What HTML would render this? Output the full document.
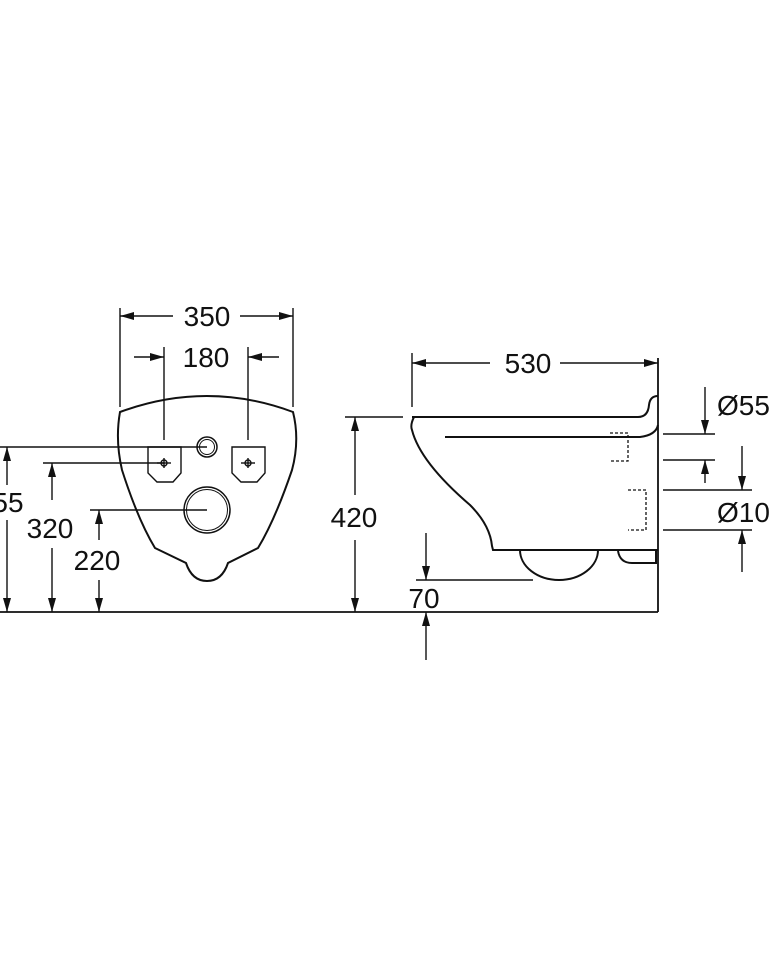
<!DOCTYPE html>
<html><head><meta charset="utf-8"><style>
html,body{margin:0;padding:0;background:#fff}
svg{display:block}
text{font-family:"Liberation Sans",sans-serif;font-size:28px;fill:#111}
</style></head><body>
<svg width="770" height="960" viewBox="0 0 770 960" xmlns="http://www.w3.org/2000/svg">
<defs>
<marker id="a" viewBox="0 0 14 10" refX="14" refY="5" markerWidth="14" markerHeight="10" markerUnits="userSpaceOnUse" orient="auto"><path d="M0,1 L14,5 L0,9 z" fill="#111"/></marker>
</defs>
<g stroke="#111" stroke-width="1.4" fill="none">
<line x1="0" y1="612" x2="658" y2="612" stroke-width="1.8"/>
<path d="M120,412 Q207,380 293,412 Q300,440 292,470 Q275,520 258,548 L228,563 Q222,581 207,581 Q192,581 186,563 L155,548 Q138,520 122,470 Q115,440 120,412 Z" stroke-width="2"/>
<circle cx="207" cy="447" r="10" stroke-width="1.5"/><circle cx="207" cy="447" r="7.5" stroke-width="1"/>
<circle cx="207" cy="510" r="23" stroke-width="1.5"/><circle cx="207" cy="510" r="20.5" stroke-width="1"/>
<path d="M148,447 L181,447 L181,473 L173,482 L157,482 L148,473 Z"/>
<path d="M232,447 L265,447 L265,473 L257,482 L241,482 L232,473 Z"/>
<circle cx="164" cy="463" r="3"/><line x1="157" y1="463" x2="171" y2="463"/><line x1="164" y1="458" x2="164" y2="468"/>
<circle cx="248" cy="463" r="3"/><line x1="241" y1="463" x2="255" y2="463"/><line x1="248" y1="458" x2="248" y2="468"/>
<line x1="120" y1="308" x2="120" y2="407"/><line x1="293" y1="308" x2="293" y2="407"/>
<line x1="173" y1="316" x2="120" y2="316" marker-end="url(#a)"/><line x1="240" y1="316" x2="293" y2="316" marker-end="url(#a)"/>
<line x1="164" y1="347" x2="164" y2="440"/><line x1="248" y1="347" x2="248" y2="440"/>
<line x1="134" y1="357" x2="164" y2="357" marker-end="url(#a)"/><line x1="279" y1="357" x2="248" y2="357" marker-end="url(#a)"/>
<line x1="0" y1="447" x2="207" y2="447"/>
<line x1="43" y1="463" x2="164" y2="463"/>
<line x1="90" y1="510" x2="207" y2="510"/>
<line x1="7" y1="485" x2="7" y2="447" marker-end="url(#a)"/><line x1="7" y1="520" x2="7" y2="612" marker-end="url(#a)"/>
<line x1="52" y1="500" x2="52" y2="463" marker-end="url(#a)"/><line x1="52" y1="548" x2="52" y2="612" marker-end="url(#a)"/>
<line x1="99" y1="540" x2="99" y2="510" marker-end="url(#a)"/><line x1="99" y1="580" x2="99" y2="612" marker-end="url(#a)"/>
<line x1="658" y1="358" x2="658" y2="612" stroke-width="1.8"/>
<path d="M412,417 L638,417 Q648,417 649,405 Q650,396 658,396" stroke-width="2"/>
<path d="M445,437 L640,437 Q656,435 658,425" stroke-width="2"/>
<path d="M414,417 Q410,425 412,430 Q420,462 470,505 Q490,525 492,546 L493,550 L658,550" stroke-width="2"/>
<path d="M520,550 A39,30 0 0 0 598,550" stroke-width="2"/>
<path d="M618,551 Q620,563 632,563 L656,563 L656,551" stroke-width="2"/>
<path d="M610,433 L628,433 L628,461 L610,461 M628,490 L646,490 L646,530 L628,530" stroke-dasharray="3,2" stroke-width="1.3"/>
<line x1="412" y1="353" x2="412" y2="407"/>
<line x1="490" y1="363" x2="412" y2="363" marker-end="url(#a)"/><line x1="560" y1="363" x2="658" y2="363" marker-end="url(#a)"/>
<line x1="345" y1="417" x2="403" y2="417"/>
<line x1="355" y1="495" x2="355" y2="417" marker-end="url(#a)"/><line x1="355" y1="540" x2="355" y2="612" marker-end="url(#a)"/>
<line x1="416" y1="580" x2="533" y2="580"/>
<line x1="426" y1="533" x2="426" y2="580" marker-end="url(#a)"/><line x1="426" y1="660" x2="426" y2="612" marker-end="url(#a)"/>
<line x1="663" y1="434" x2="715" y2="434"/><line x1="663" y1="460" x2="715" y2="460"/>
<line x1="663" y1="490" x2="752" y2="490"/><line x1="663" y1="530" x2="752" y2="530"/>
<line x1="705" y1="387" x2="705" y2="434" marker-end="url(#a)"/><line x1="705" y1="483" x2="705" y2="460" marker-end="url(#a)"/>
<line x1="742" y1="446" x2="742" y2="490" marker-end="url(#a)"/><line x1="742" y1="572" x2="742" y2="530" marker-end="url(#a)"/>
</g>
<g text-anchor="middle">
<text x="207" y="326">350</text>
<text x="206" y="367">180</text>
<text x="8" y="512">55</text>
<text x="50" y="538">320</text>
<text x="97" y="570">220</text>
<text x="528" y="373">530</text>
<text x="354" y="527">420</text>
<text x="424" y="608">70</text>
</g>
<text x="717" y="415">Ø55</text>
<text x="717" y="522">Ø10</text>
</svg>
</body></html>
